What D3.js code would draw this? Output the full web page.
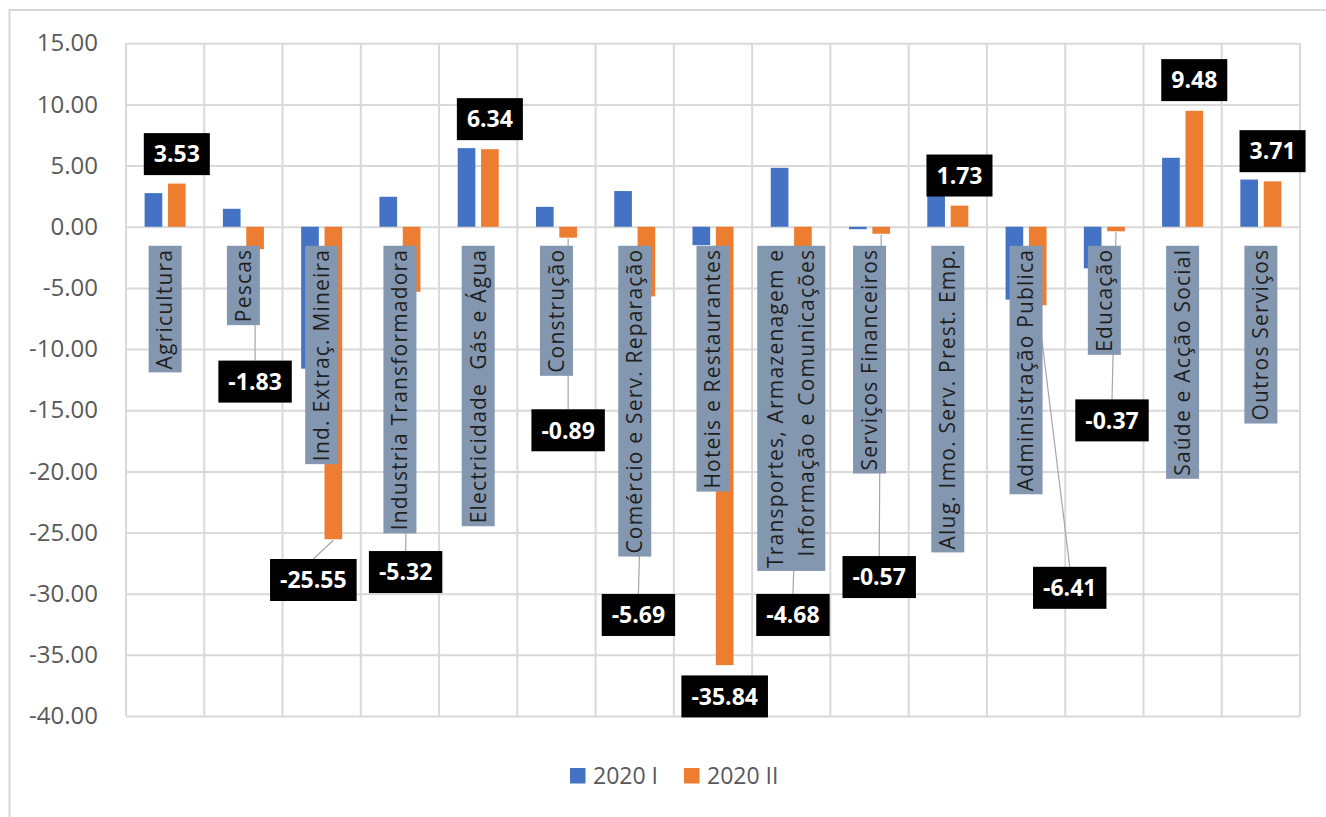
<!DOCTYPE html>
<html><head><meta charset="utf-8">
<script src="https://cdn.jsdelivr.net/npm/d3@7"></script>
<style>body{margin:0;background:#fff;} svg{display:block}</style>
</head><body>
<svg id="chart" width="1326" height="817"></svg>
<script>
const categories = ["Agricultura","Pescas","Ind. Extraç. Mineira","Industria Transformadora","Electricidade  Gás e Água","Construção","Comércio e Serv. Reparação","Hoteis e Restaurantes","Transportes, Armazenagem e\nInformação e Comunicações","Serviços Financeiros","Alug. Imo. Serv. Prest. Emp.","Administração Publica","Educação","Saúde e Acção Social","Outros Serviços"];
const series = ["2020 I","2020 II"];
const values2020I = [2.75, 1.47, -11.6, 2.45, 6.43, 1.63, 2.92, -1.5, 4.82, -0.2, 3.2, -5.96, -3.4, 5.64, 3.86];
const values2020II = [3.53, -1.83, -25.55, -5.32, 6.34, -0.89, -5.69, -35.84, -4.68, -0.57, 1.73, -6.41, -0.37, 9.48, 3.71];
const yTicks = [15, 10, 5, 0, -5, -10, -15, -20, -25, -30, -35, -40];
const colors = ["#4472C4", "#ED7D31"];
// layout of the moved 2020 II data labels (x shift in px, centre in axis units)
const labelDx = [0, 0, -20, -6, 0, 0, -8, 0, -10, -2, 0, 32, -4, 0, 0];
const labelY = [5.94, -12.66, -28.88, -28.23, 8.80, -16.64, -31.74, -38.4, -31.74, -28.64, 4.19, -29.52, -15.83, 11.99, 6.18];

const svg = d3.select("#chart");
const font = "'Open Sans', sans-serif";
const L = 126, R = 1300, T = 43.3, B = 716;

svg.append("rect").attr("x", 9.5).attr("y", 10).attr("width", 1340).attr("height", 840)
  .attr("fill", "none").attr("stroke", "#d9d9d9").attr("stroke-width", 2);

const x0 = d3.scaleBand().domain(categories).range([L, R]).paddingInner(0).paddingOuter(0);
const y = d3.scaleLinear().domain([-40, 15]).range([B, T]);
const groupW = x0.bandwidth() * 0.524;
const x1 = d3.scaleBand().domain(series).range([0, groupW]).paddingInner(0.244).paddingOuter(0);
const gOff = (x0.bandwidth() - groupW) / 2;

// horizontal grid + y labels
const yAxis = d3.axisLeft(y).tickValues(yTicks).tickSize(-(R - L)).tickPadding(28)
  .tickFormat(v => v.toFixed(2));
const ga = svg.append("g").attr("transform", `translate(${L},0)`).call(yAxis);
ga.select(".domain").remove();
ga.selectAll("line").attr("stroke", "#d9d9d9").attr("stroke-width", 2);
ga.selectAll("text").attr("fill", "#595959").style("font-family", font).style("font-size", "24px");

// vertical grid
const vx = categories.map(c => x0(c)).concat([R]);
svg.append("g").selectAll("line").data(vx).join("line")
  .attr("x1", d => d).attr("x2", d => d).attr("y1", T).attr("y2", B)
  .attr("stroke", "#d9d9d9").attr("stroke-width", 2);

// bars
const rows = categories.map((c, i) => ({c, i, vals: [values2020I[i], values2020II[i]]}));
const gb = svg.append("g");
rows.forEach(r => {
  r.vals.forEach((v, s) => {
    gb.append("rect")
      .attr("x", x0(r.c) + gOff + x1(series[s]))
      .attr("width", x1.bandwidth())
      .attr("y", y(Math.max(0, v)))
      .attr("height", Math.abs(y(v) - y(0)))
      .attr("fill", colors[s]);
  });
});

// leader lines + label geometry
const labH = 42;
const barCx = r => x0(r.c) + gOff + x1(series[1]) + x1.bandwidth() / 2;
const gl = svg.append("g");
rows.forEach(r => {
  const v = values2020II[r.i];
  const cx = barCx(r) + labelDx[r.i];
  const cy = y(labelY[r.i]);
  const bx = barCx(r), by = y(v);
  const edgeY = v < 0 ? cy - labH / 2 : cy + labH / 2;
  if (Math.abs(edgeY - by) > 15) {
    gl.append("line").attr("x1", bx).attr("y1", by + (v < 0 ? 1 : -1)).attr("x2", cx).attr("y2", edgeY)
      .attr("stroke", "#a6a6a6").attr("stroke-width", 1.2);
  }
});

// category labels (rotated boxes)
const gc = svg.append("g");
rows.forEach(r => {
  const lines = r.c.split("\n");
  const lh = 31;
  const g = gc.append("g")
    .attr("transform", `translate(${x0(r.c) + x0.bandwidth() / 2},${y(0) + 19}) rotate(-90)`);
  const rect = g.append("rect");
  const txt = g.selectAll("text").data(lines).join("text")
    .attr("x", -3)
    .attr("y", (d, k) => (k - (lines.length - 1) / 2) * lh)
    .attr("dy", "0.35em")
    .attr("text-anchor", "end")
    .attr("fill", "#1f1f1f")
    .style("font-family", font).style("font-size", "21px").style("letter-spacing", "1.2px")
    .style("white-space", "pre")
    .text(d => d);
  let len = 0;
  txt.each(function () { len = Math.max(len, this.getComputedTextLength()); });
  const w = 33 + lh * (lines.length - 1) + (lines.length > 1 ? 4 : 0);
  rect.attr("x", -(len + 6)).attr("y", -w / 2).attr("width", len + 6).attr("height", w)
    .attr("fill", "#8497B0");
});

// data labels for 2020 II
const gd = svg.append("g");
rows.forEach(r => {
  const v = values2020II[r.i];
  const cx = barCx(r) + labelDx[r.i];
  const cy = y(labelY[r.i]);
  const g = gd.append("g").attr("transform", `translate(${cx},${cy})`);
  const rect = g.append("rect");
  const t = g.append("text").attr("text-anchor", "middle").attr("dy", "0.36em")
    .attr("fill", "#fff").style("font-family", font).style("font-weight", "700").style("font-size", "23px")
    .text(v.toFixed(2));
  const tw = t.node().getComputedTextLength();
  rect.attr("x", -(tw + 20) / 2).attr("y", -labH / 2).attr("width", tw + 20).attr("height", labH).attr("fill", "#000");
});

// legend
const lg = svg.append("g");
let lx = 570;
series.forEach((s, k) => {
  lg.append("rect").attr("x", lx).attr("y", 768).attr("width", 15.5).attr("height", 15.5).attr("fill", colors[k]);
  const t = lg.append("text").attr("x", lx + 23).attr("y", 776).attr("dy", "0.35em")
    .attr("fill", "#595959").style("font-family", font).style("font-size", "23px").text(s);
  lx = lx + 23 + t.node().getComputedTextLength() + 26;
});
</script>
</body></html>
